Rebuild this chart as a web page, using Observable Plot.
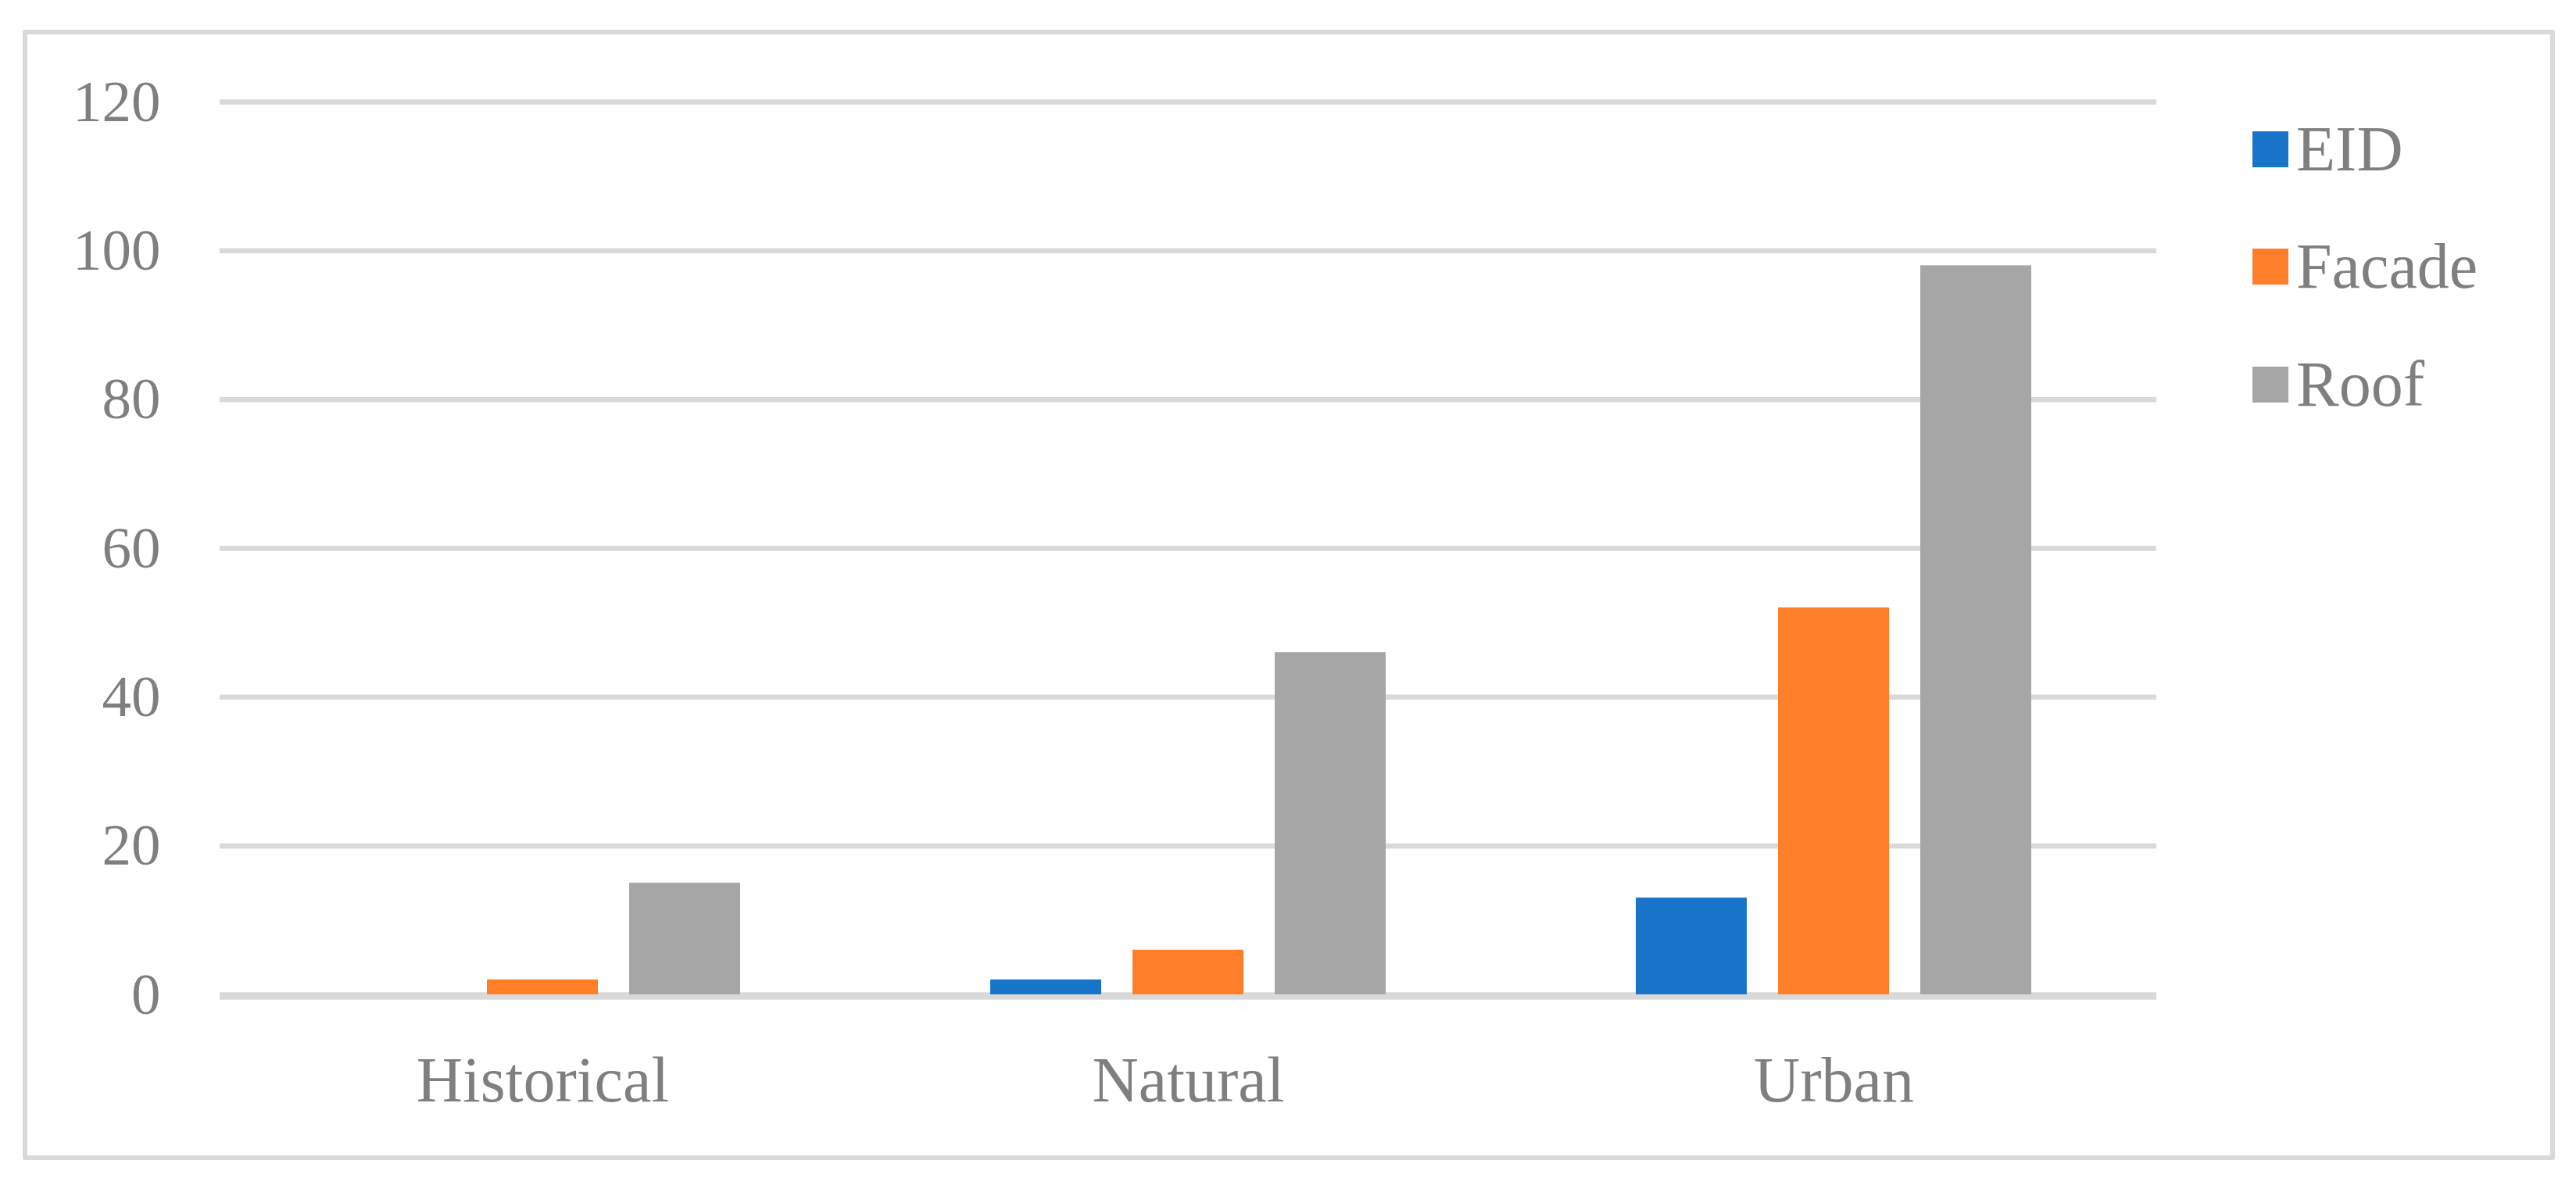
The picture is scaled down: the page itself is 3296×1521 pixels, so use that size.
<!DOCTYPE html>
<html>
<head>
<meta charset="utf-8">
<script src="https://cdn.jsdelivr.net/npm/d3@7"></script>
<script src="https://cdn.jsdelivr.net/npm/@observablehq/plot@0.6"></script>
<style>
  html, body { margin: 0; padding: 0; background: #fff; }
  #wrap { position: relative; width: 3296px; height: 1521px; overflow: hidden; }
  #frame { position: absolute; left: 29px; top: 38px; width: 3240px; height: 1446px;
           box-sizing: border-box; border: 6px solid #d9d9d9; border-radius: 3px; }
  #chart { position: absolute; left: 0; top: 0; }
  #legend { position: absolute; left: 2882px; top: 0; font-family: 'Liberation Serif', serif;
            font-size: 82px; color: #7f7f7f; }
  .item { position: absolute; left: 0; white-space: nowrap; display: flex; align-items: center; }
  .sw { width: 46px; height: 46px; margin-right: 10px; }
</style>
</head>
<body>
<div id="wrap">
  <div id="frame"></div>
  <div id="chart"></div>
  <div id="legend"></div>
</div>
<script>
const categories = ["Historical", "Natural", "Urban"];
const series = ["EID", "Facade", "Roof"];
const colors = ["#1874c8", "#fe7f27", "#a6a6a6"];
const eidValues = [0, 2, 13];
const facadeValues = [2, 6, 52];
const roofValues = [15, 46, 98];
const yTicks = [0, 20, 40, 60, 80, 100, 120];

const seriesValues = [eidValues, facadeValues, roofValues];
const data = [];
categories.forEach((c, i) => series.forEach((s, j) => data.push({category: c, series: s, value: seriesValues[j][i]})));

const W = 3296, H = 1521;
const chart = Plot.plot({
  width: W,
  height: H,
  marginLeft: 280,
  marginRight: W - 2760,
  marginTop: 130,
  marginBottom: H - 1272,
  style: {fontFamily: "'Liberation Serif', serif", fontSize: "82px", color: "#7f7f7f", background: "transparent"},
  fx: {domain: categories, padding: 0, label: null, axis: "bottom", tickSize: 0, tickPadding: 78},
  x: {domain: series, axis: null, paddingInner: 0.219, paddingOuter: 0.869},
  y: {domain: [0, 120], ticks: yTicks, tickSize: 0, tickPadding: 76, label: null, axis: "left"},
  color: {domain: series, range: colors},
  marks: [
    Plot.ruleY(yTicks, {stroke: "#d9d9d9", strokeWidth: 6.5}),
    Plot.barY(data, {fx: "category", x: "series", y: "value", fill: "series"}),
    Plot.ruleY([0], {stroke: "#d9d9d9", strokeWidth: 6.5, dy: 3})
  ]
});
chart.querySelectorAll("[aria-label='y-axis tick label'] text, g[aria-label='y-axis tick label']").forEach(el => el.setAttribute("font-size", "75"));
document.getElementById("chart").appendChild(chart);

const legend = document.getElementById("legend");
const legendY = [191, 341, 492];
series.forEach((s, i) => {
  const item = document.createElement("div");
  item.className = "item";
  item.style.top = (legendY[i] - 50) + "px";
  item.style.height = "100px";
  const sw = document.createElement("div");
  sw.className = "sw";
  sw.style.background = colors[i];
  const t = document.createElement("span");
  t.textContent = s;
  item.appendChild(sw);
  item.appendChild(t);
  legend.appendChild(item);
});
</script>
</body>
</html>
